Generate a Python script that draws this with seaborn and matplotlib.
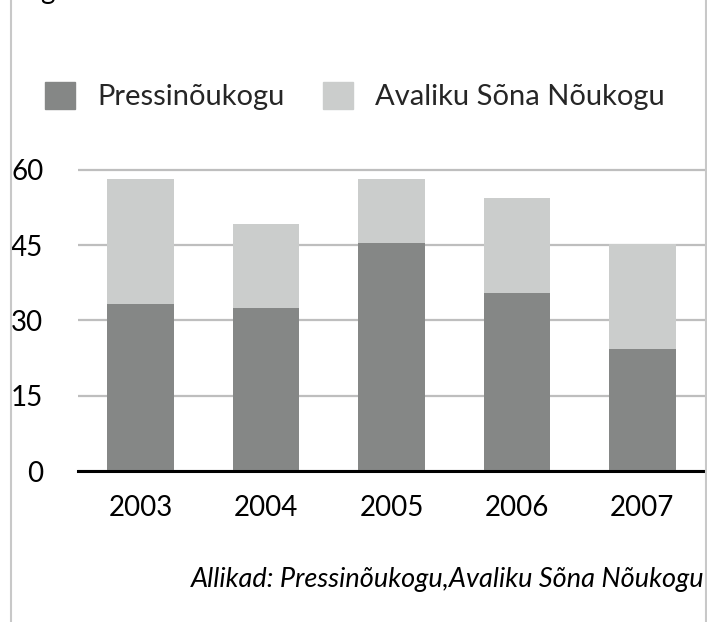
import matplotlib
matplotlib.use("Agg")
import matplotlib.pyplot as plt
import seaborn as sns
import pandas as pd
from matplotlib.lines import Line2D
from matplotlib.patches import Patch

# data
years = ["2003", "2004", "2005", "2006", "2007"]
pressinoukogu = [33.3, 32.4, 45.4, 35.5, 24.4]
avaliku_sona = [24.9, 16.8, 12.8, 18.9, 20.8]
series_names = ["Pressinõukogu", "Avaliku Sõna Nõukogu"]
y_ticks = [0, 15, 30, 45, 60]
source_text = "Allikad: Pressinõukogu,Avaliku Sõna Nõukogu"

colors = ["#858786", "#CBCDCC"]

df = pd.DataFrame({
    "aasta": years,
    series_names[0]: pressinoukogu,
    series_names[1]: avaliku_sona,
})
df["kokku"] = df[series_names[0]] + df[series_names[1]]

sns.set_theme(style="white")
plt.rcParams["font.family"] = ["Lato", "DejaVu Sans"]

W, H = 707, 622
fig = plt.figure(figsize=(W / 100, H / 100), dpi=100)
# axes box in pixels: x 78..705, y(0)=471, 5.017 px per unit
y_top = 61
px_unit = 5.017
ax = fig.add_axes([78 / W, (H - 471) / H, 627 / W, y_top * px_unit / H])

# stacked bars: total in light grey, lower part in dark grey on top
sns.barplot(data=df, x="aasta", y="kokku", color=colors[1], saturation=1,
            width=0.53, errorbar=None, linewidth=0, ax=ax, zorder=2)
sns.barplot(data=df, x="aasta", y=series_names[0], color=colors[0], saturation=1,
            width=0.53, errorbar=None, linewidth=0, ax=ax, zorder=2)

ax.set_ylim(0, y_top)
ax.set_xlim(-0.5, 4.5)
ax.set_yticks(y_ticks)
ax.set_xlabel("")
ax.set_ylabel("")
ax.yaxis.grid(True, color="#BEBEBE", linewidth=1.6)
ax.set_axisbelow(True)
for s in ["left", "right", "top"]:
    ax.spines[s].set_visible(False)
ax.spines["bottom"].set_color("black")
ax.spines["bottom"].set_linewidth(2.2)
ax.spines["bottom"].set_zorder(3)
ax.tick_params(axis="y", length=0, pad=25, labelsize=20, labelcolor="black")
ax.tick_params(axis="x", length=0, pad=17, labelsize=20, labelcolor="black")

# legend above the plot
handles = [Patch(color=colors[0], label=series_names[0]),
           Patch(color=colors[1], label=series_names[1])]
fig.legend(handles=handles, loc="center left", bbox_to_anchor=(45 / W, 1 - 96 / H),
           ncol=2, frameon=False, fontsize=21, handlelength=1.03, handleheight=1.03,
           handletextpad=0.75, columnspacing=1.34, borderpad=0, borderaxespad=0)

# source note
fig.text(704 / W, 1 - 587 / H, source_text, ha="right", va="baseline",
         style="italic", fontsize=19.5, color="black")

# cut-off title at the very top
fig.text(40 / W, 1 + 1.5 / H, "g", ha="left", va="baseline", fontsize=20, color="black")

# frame lines at the left and right
fig.add_artist(Line2D([11 / W, 11 / W], [0, 1], color="#C8C8C8", lw=1.5,
                      transform=fig.transFigure))
fig.add_artist(Line2D([705.5 / W, 705.5 / W], [0, 1], color="#C8C8C8", lw=1.5,
                      transform=fig.transFigure))

fig.savefig("out.png", dpi=100)
